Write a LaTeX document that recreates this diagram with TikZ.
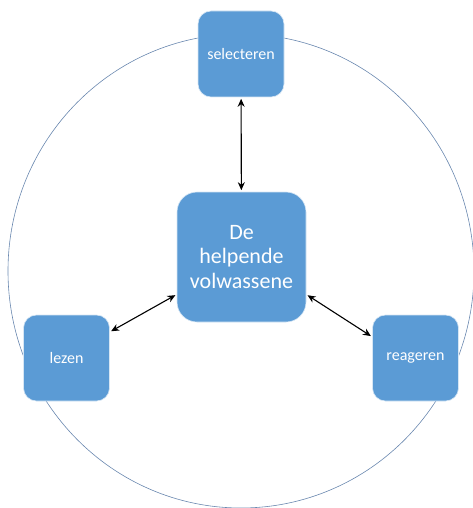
\documentclass[tikz,border=0pt]{standalone}
\usepackage{fontspec}
\setmainfont{Carlito}
\usetikzlibrary{arrows.meta}
\definecolor{boxblue}{RGB}{91,155,213}
\definecolor{ringblue}{RGB}{105,135,175}

\begin{document}
\begin{tikzpicture}[x=1pt,y=-1pt,
	blok/.style={fill=boxblue, draw=white!75!boxblue, line width=0.6pt, rounded corners=13pt,
		minimum width=86pt, minimum height=86pt, inner sep=0pt, text=white,
		font=\fontsize{16}{19}\selectfont},
	pijl/.style={{Stealth[length=8pt,width=7pt]}-{Stealth[length=8pt,width=7pt]}, line width=1.1pt, shorten <=1.5pt, shorten >=1.5pt}]
	%%%%% START %%%%%
	\useasboundingbox (0,0) rectangle (473,508);
	
	\draw[ringblue, line width=0.6pt] (241,271) ellipse [x radius=233pt, y radius=237pt];
	
	\node[blok] (sel) at (241,54) {selecteren};
	\node[blok, minimum width=129pt, minimum height=130pt, rounded corners=20pt, align=center,
		font=\fontsize{22}{24.5}\selectfont] (mid) at (241.5,257) {De\\helpende\\volwassene};
	\node[blok] (lez) at (66.5,358) {lezen};
	\node[blok] (rea) at (415.5,358) {reageren};
	
	\draw[pijl] (sel) -- (mid);
	\draw[pijl] (lez.31) -- (mid.210);
	\draw[pijl] (mid.330) -- (rea.154);
	%%%%% END %%%%%
\end{tikzpicture}
\end{document}
